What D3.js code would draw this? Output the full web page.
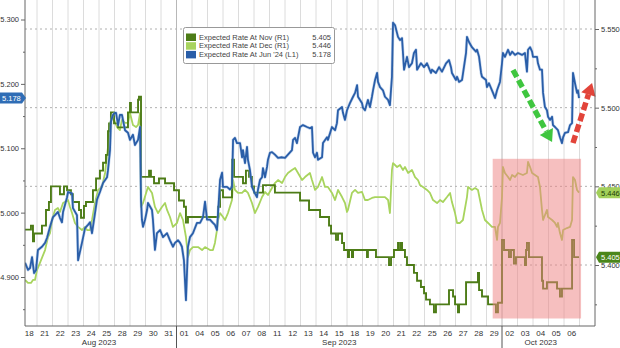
<!DOCTYPE html>
<html><head><meta charset="utf-8">
<script src="https://cdn.jsdelivr.net/npm/d3@7"></script>
<style>body{margin:0;background:#fff;overflow:hidden}svg{display:block;font-family:"Liberation Sans",Arial,sans-serif}</style>
</head><body><svg id="c" width="620" height="348"></svg>
<script>
// ---- DATA ----
const dayLabels = ["18","21","22","23","24","25","28","29","30","31",
  "01","04","05","06","07","08","11","12","13","14","15","18","19","20","21","22","25","26","27","28","29",
  "02","03","04","05","06"];
const monthNames = ["Aug 2023","Sep 2023","Oct 2023"];
const monthStarts = [0,10,31];
const monthEnds = [10,31,36];
const leftTicks = [4.9,5.0,5.1,5.2,5.3];
const leftMinor = [4.85,4.95,5.05,5.15,5.25];
const rightTicks = [5.40,5.45,5.50,5.55];
const rightMinor = [5.375,5.425,5.475,5.525];
const seriesNames = ["Expected Rate At Nov (R1)","Expected Rate At Dec (R1)","Expected Rate At Jun '24 (L1)"];

// t = trading days since start of Aug 18 ; v = implied rate
const novSeries = [[0.23,5.4225],[0.61,5.425],[0.74,5.415],[0.81,5.420],[1.32,5.425],[1.58,5.435],[1.77,5.440],[1.90,5.450],
[2.48,5.445],[2.74,5.450],[2.94,5.4475],[3.19,5.445],[3.32,5.440],[3.71,5.435],[3.84,5.430],[4.03,5.4375],[4.16,5.440],
[4.61,5.4475],[4.81,5.455],[5.06,5.460],[5.26,5.465],[5.45,5.470],[5.58,5.485],[5.65,5.490],[5.77,5.497],[5.97,5.490],
[6.23,5.4875],[6.87,5.497],[7.0,5.503],[7.06,5.497],[7.52,5.505],[7.58,5.507],[7.71,5.456],[8.23,5.460],[8.35,5.456],
[8.55,5.452],[8.87,5.455],[9.26,5.452],[9.84,5.4475],[10.16,5.441],[10.48,5.437],[10.61,5.427],[10.74,5.4305],
[12.68,5.437],[12.81,5.4475],[13.0,5.443],[13.58,5.467],[13.71,5.456],[14.29,5.452],[14.48,5.460],[14.68,5.456],
[14.87,5.450],[15.0,5.446],[15.58,5.4508],[16.35,5.446],[17.97,5.441],[18.55,5.435],[19.26,5.4305],[19.84,5.425],
[19.97,5.420],[20.29,5.416],[20.42,5.420],[20.68,5.414],[20.81,5.4095],[21.06,5.405],[21.13,5.4095],[21.32,5.405],
[21.39,5.4095],[22.29,5.405],[22.35,5.4095],[22.87,5.405],[23.71,5.400],[23.84,5.405],[24.03,5.4095],[24.29,5.414],
[24.35,5.4095],[24.48,5.414],[24.55,5.4095],[24.74,5.405],[24.87,5.400],[25.32,5.395],[25.52,5.390],[25.77,5.386],
[25.97,5.382],[26.10,5.378],[26.35,5.375],[26.61,5.370],[26.74,5.375],[27.58,5.384],[27.84,5.380],[27.97,5.375],
[28.16,5.370],[28.23,5.375],[28.68,5.389],[29.45,5.395],[29.52,5.384],[29.71,5.380],[30.10,5.375],[30.61,5.370],
[30.74,5.376],[31.0,5.416],[31.13,5.4095],[31.45,5.405],[31.58,5.4095],[31.77,5.401],[31.90,5.405],[32.48,5.400],
[32.55,5.4095],[32.61,5.414],[32.74,5.405],[33.58,5.390],[33.65,5.385],[33.90,5.389],[34.55,5.385],[34.74,5.380],
[34.87,5.385],[35.52,5.416],[35.65,5.405],[35.97,5.405]];

const decSeries = [[0.23,5.3905],[0.42,5.3886],[0.61,5.3886],[0.74,5.3905],[0.87,5.3905],[1.0,5.3968],[1.19,5.4013],
[1.52,5.4095],[1.71,5.4178],[1.84,5.4203],[1.97,5.4286],[2.16,5.4350],[2.35,5.4362],[2.48,5.4337],[2.68,5.4394],
[3.0,5.4413],[3.13,5.4369],[3.26,5.4330],[3.45,5.4267],[3.65,5.4242],[3.90,5.4222],[4.10,5.4242],[4.23,5.4222],
[4.42,5.4222],[4.55,5.4286],[4.74,5.4394],[4.94,5.4477],[5.19,5.4496],[5.39,5.4585],[5.58,5.4750],[5.71,5.4903],
[5.90,5.4941],[6.16,5.4877],[6.35,5.4858],[6.48,5.4922],[6.68,5.4903],[6.87,5.4903],[7.0,5.4966],[7.19,5.4890],
[7.39,5.4877],[7.52,5.4890],[7.65,5.4966],[7.71,5.4369],[7.84,5.4394],[8.10,5.4477],[8.16,5.4496],[8.42,5.4458],
[8.61,5.4369],[8.81,5.4330],[9.06,5.4369],[9.26,5.4394],[9.39,5.4350],[9.58,5.4305],[9.77,5.4242],[10.03,5.4267],
[10.23,5.4330],[10.42,5.4286],[10.61,5.4178],[10.74,5.4051],[10.87,5.4095],[11.06,5.4114],[11.39,5.4114],
[11.65,5.4095],[11.84,5.4114],[12.16,5.4095],[12.35,5.4095],[12.48,5.4140],[12.61,5.4222],[12.68,5.4286],
[12.81,5.4330],[13.0,5.4305],[13.13,5.4286],[13.32,5.4330],[13.58,5.4413],[13.65,5.4540],[13.77,5.4477],
[13.97,5.4458],[14.23,5.4458],[14.42,5.4477],[14.61,5.4458],[14.87,5.4394],[15.06,5.4330],[15.26,5.4369],
[15.52,5.4432],[15.71,5.4464],[15.90,5.4445],[16.16,5.4489],[16.35,5.4521],[16.55,5.4540],[16.81,5.4521],
[17.0,5.4559],[17.19,5.4585],[17.45,5.4604],[17.65,5.4617],[17.84,5.4585],[18.10,5.4540],[18.29,5.4559],
[18.61,5.4585],[18.74,5.4540],[18.94,5.4477],[19.13,5.4496],[19.39,5.4559],[19.58,5.4496],[19.77,5.4496],
[20.03,5.4458],[20.23,5.4413],[20.42,5.4477],[20.68,5.4432],[20.87,5.4394],[21.0,5.4337],[21.06,5.4350],
[21.32,5.4458],[21.52,5.4477],[21.71,5.4458],[21.97,5.4464],[22.16,5.4413],[22.35,5.4413],[22.61,5.4426],
[22.81,5.4432],[23.45,5.4432],[23.65,5.4413],[23.77,5.4330],[23.90,5.4604],[23.97,5.4648],[24.23,5.4623],
[24.42,5.4636],[24.61,5.4604],[24.74,5.4623],[24.94,5.4585],[25.19,5.4604],[25.39,5.4559],[25.58,5.4540],
[25.71,5.4508],[25.90,5.4496],[26.16,5.4477],[26.35,5.4458],[26.55,5.4413],[26.81,5.4394],[27.0,5.4413],
[27.19,5.4400],[27.45,5.4432],[27.65,5.4458],[27.77,5.4400],[27.97,5.4330],[28.10,5.4267],[28.29,5.4267],
[28.48,5.4286],[28.74,5.4432],[28.81,5.4496],[29.06,5.4477],[29.26,5.4489],[29.45,5.4477],[29.58,5.4413],
[29.71,5.4350],[29.90,5.4286],[30.10,5.4267],[30.35,5.4242],[30.55,5.4242],[30.68,5.4159],[30.74,5.4242],
[30.87,5.4267],[31.0,5.4432],[31.06,5.4623],[31.19,5.4585],[31.39,5.4559],[31.52,5.4540],[31.65,5.4572],
[31.84,5.4559],[32.03,5.4585],[32.35,5.4572],[32.61,5.4585],[32.68,5.4655],[32.81,5.4623],[32.94,5.4585],
[33.13,5.4572],[33.32,5.4559],[33.45,5.4496],[33.58,5.4350],[33.65,5.4286],[33.90,5.4350],[33.97,5.4305],
[34.23,5.4286],[34.42,5.4267],[34.55,5.4242],[34.61,5.4267],[34.74,5.4203],[34.87,5.4159],[34.94,5.4222],
[35.19,5.4235],[35.39,5.4242],[35.52,5.4286],[35.58,5.4559],[35.71,5.4540],[35.84,5.4477],[35.97,5.4460]];

const junSeries = [[0.23,4.922],[0.42,4.911],[0.55,4.914],[0.68,4.931],[0.81,4.906],[0.94,4.911],[1.06,4.942],[1.32,4.947],
[1.52,4.953],[1.65,4.961],[1.84,4.978],[2.03,4.993],[2.16,4.996],[2.35,5.001],[2.48,4.992],[2.61,4.985],[2.68,5.001],
[2.94,5.024],[3.0,5.032],[3.26,5.030],[3.32,5.007],[3.58,4.996],[3.65,4.926],[3.90,4.953],[4.10,4.976],[4.29,4.981],
[4.42,4.985],[4.55,4.968],[4.74,4.999],[4.87,5.020],[5.06,5.032],[5.26,5.046],[5.52,5.055],[5.58,5.066],[5.71,5.097],
[5.77,5.141],[5.90,5.152],[6.03,5.155],[6.10,5.155],[6.23,5.136],[6.35,5.152],[6.48,5.152],[6.68,5.128],[6.87,5.124],
[7.0,5.113],[7.19,5.121],[7.32,5.105],[7.52,5.113],[7.65,5.133],[7.71,5.020],[7.77,4.989],[7.84,4.978],[7.97,4.989],
[8.10,5.004],[8.16,5.015],[8.42,5.004],[8.48,4.989],[8.61,4.942],[8.74,4.968],[8.94,4.973],[9.13,4.962],[9.39,4.968],
[9.58,4.957],[9.77,4.947],[9.90,4.953],[10.10,4.957],[10.23,4.953],[10.35,4.947],[10.48,4.926],[10.61,4.864],
[10.74,4.947],[10.87,4.962],[11.06,4.968],[11.32,4.984],[11.52,4.984],[11.71,4.993],[11.84,5.017],[11.97,4.989],
[12.16,4.989],[12.35,4.984],[12.48,4.981],[12.61,4.973],[12.68,4.999],[12.81,5.051],[12.94,5.062],[13.0,5.040],
[13.26,5.040],[13.45,5.036],[13.58,5.040],[13.65,5.113],[13.77,5.116],[13.90,5.108],[14.10,5.108],[14.23,5.086],
[14.29,5.097],[14.42,5.077],[14.55,5.102],[14.61,5.082],[14.74,5.066],[14.87,5.040],[15.06,5.030],[15.19,5.024],
[15.26,5.036],[15.39,5.051],[15.52,5.055],[15.58,5.069],[15.71,5.055],[15.84,5.071],[15.90,5.082],[16.03,5.093],
[16.16,5.094],[16.35,5.090],[16.55,5.085],[16.81,5.086],[17.0,5.085],[17.19,5.090],[17.45,5.097],[17.52,5.113],
[17.65,5.116],[17.77,5.108],[17.97,5.133],[18.16,5.136],[18.42,5.133],[18.61,5.131],[18.74,5.133],[18.81,5.093],
[18.94,5.086],[19.06,5.093],[19.13,5.082],[19.39,5.086],[19.45,5.108],[19.71,5.117],[19.77,5.113],[20.03,5.133],
[20.23,5.128],[20.35,5.139],[20.42,5.159],[20.68,5.164],[20.74,5.155],[20.87,5.144],[21.0,5.159],[21.19,5.170],
[21.39,5.180],[21.52,5.186],[21.65,5.198],[21.71,5.180],[21.84,5.175],[21.97,5.170],[22.03,5.163],[22.16,5.159],
[22.29,5.170],[22.35,5.175],[22.48,5.164],[22.61,5.180],[22.68,5.190],[22.81,5.206],[22.94,5.217],[23.0,5.203],
[23.13,5.195],[23.32,5.190],[23.45,5.180],[23.65,5.175],[23.77,5.167],[23.90,5.211],[23.97,5.295],[24.10,5.291],
[24.29,5.273],[24.42,5.268],[24.55,5.271],[24.68,5.222],[24.87,5.242],[25.0,5.226],[25.19,5.232],[25.32,5.248],
[25.45,5.253],[25.52,5.222],[25.77,5.232],[25.97,5.226],[26.16,5.232],[26.42,5.217],[26.48,5.222],[26.74,5.217],
[26.94,5.226],[27.13,5.219],[27.39,5.232],[27.58,5.237],[27.71,5.226],[27.77,5.217],[28.03,5.206],[28.10,5.211],
[28.23,5.203],[28.42,5.206],[28.68,5.248],[28.74,5.273],[28.87,5.265],[29.06,5.257],[29.32,5.250],[29.39,5.253],
[29.52,5.242],[29.65,5.217],[29.71,5.211],[29.97,5.206],[30.03,5.195],[30.16,5.201],[30.42,5.186],[30.55,5.178],
[30.68,5.190],[30.87,5.203],[31.0,5.232],[31.06,5.248],[31.19,5.242],[31.39,5.253],[31.52,5.245],[31.65,5.250],
[31.84,5.245],[32.03,5.248],[32.29,5.245],[32.48,5.248],[32.61,5.219],[32.68,5.253],[32.81,5.257],[32.94,5.250],
[33.0,5.242],[33.26,5.242],[33.32,5.232],[33.45,5.222],[33.58,5.222],[33.65,5.186],[33.77,5.164],[33.90,5.159],
[33.97,5.149],[34.10,5.144],[34.23,5.149],[34.29,5.136],[34.42,5.133],[34.61,5.128],[34.74,5.117],[34.87,5.108],
[34.94,5.117],[35.06,5.124],[35.26,5.125],[35.39,5.136],[35.52,5.139],[35.58,5.217],[35.71,5.201],[35.84,5.186],
[35.90,5.190],[35.97,5.178]];

// annotations (data coordinates)
const highlightT = [30.4, 36.1];          // trading-day span
const highlightV = [5.366, 5.4675];       // right-axis values
const greenArrow = [[31.71,5.2216],[34.23,5.1097]];  // left-axis values
const redArrow = [[35.58,5.1082],[36.81,5.2014]];

// ---- CHART ----
const colNov = "#4d7c17", colDec = "#a8d45e", colJun = "#2a5ea8";
const svg = d3.select("#c");
const L = 25, R = 595, T = 0, B = 326;
const x = d3.scaleLinear().domain([0,37]).range([21.5,595]);
const yL = d3.scaleLinear().domain([4.9,5.3]).range([277,19.5]);
const yR = d3.scaleLinear().domain([5.40,5.55]).range([265,29]);

svg.append("defs").append("clipPath").attr("id","clip")
  .append("rect").attr("x",L).attr("y",T).attr("width",R-L).attr("height",B-T);

// vertical grid
svg.append("g").selectAll("line").data(d3.range(1,37)).join("line")
  .attr("x1",d=>x(d)).attr("x2",d=>x(d)).attr("y1",T).attr("y2",B)
  .attr("stroke",d=>(monthStarts.includes(d)?"#b8b8b8":"#dcdcdc")).attr("stroke-width",1);
// horizontal dotted grid (right axis)
svg.append("g").selectAll("line").data(rightTicks).join("line")
  .attr("x1",L).attr("x2",R).attr("y1",d=>yR(d)).attr("y2",d=>yR(d))
  .attr("stroke","#b0b0b0").attr("stroke-dasharray","2,3");

const g = svg.append("g").attr("clip-path","url(#clip)");
const lineDec = d3.line().x(d=>x(d[0])).y(d=>yR(d[1]));
const lineNov = d3.line().x(d=>x(d[0])).y(d=>yR(d[1])).curve(d3.curveStepAfter);
const lineJun = d3.line().x(d=>x(d[0])).y(d=>yL(d[1]));
g.append("path").datum(decSeries).attr("d",lineDec).attr("fill","none").attr("stroke",colDec).attr("stroke-width",1.8).attr("stroke-linejoin","round");
g.append("path").datum(novSeries).attr("d",lineNov).attr("fill","none").attr("stroke",colNov).attr("stroke-width",1.9);
g.append("path").datum(junSeries).attr("d",lineJun).attr("fill","none").attr("stroke","#8fb2e0").attr("stroke-width",3).attr("stroke-linejoin","round").attr("opacity",0.5);
g.append("path").datum(junSeries).attr("d",lineJun).attr("fill","none").attr("stroke",colJun).attr("stroke-width",1.8).attr("stroke-linejoin","round");

// highlight box
svg.append("rect").attr("x",x(highlightT[0])).attr("width",x(highlightT[1])-x(highlightT[0]))
  .attr("y",yR(highlightV[1])).attr("height",yR(highlightV[0])-yR(highlightV[1]))
  .attr("fill","#ee7f7f").attr("opacity",0.5);

// arrows
function arrow(pts,color){
  const x0=x(pts[0][0]), y0=yL(pts[0][1]), x1=x(pts[1][0]), y1=yL(pts[1][1]);
  const a=Math.atan2(y1-y0,x1-x0), hl=12, hw=7.5;
  const bx=x1-hl*Math.cos(a), by=y1-hl*Math.sin(a);
  svg.append("line").attr("x1",x0).attr("y1",y0).attr("x2",bx).attr("y2",by)
    .attr("stroke",color).attr("stroke-width",5.5).attr("stroke-dasharray","8,3.5");
  svg.append("polygon").attr("points",[[x1,y1],[bx+hw*Math.sin(a),by-hw*Math.cos(a)],[bx-hw*Math.sin(a),by+hw*Math.cos(a)]].map(p=>p.join(",")).join(" "))
    .attr("fill",color);
}
arrow(greenArrow,"#3fc63f");
arrow(redArrow,"#e2443a");

// axes
const fmt = d3.format(".3f");
function styleAxis(sel){
  sel.select(".domain").attr("stroke","#666");
  sel.selectAll(".tick line").attr("stroke","#666");
  sel.selectAll("text").attr("fill","#333").style("font-size","7.5px").style("font-family","Liberation Sans, Arial, sans-serif");
}
const axL = svg.append("g").attr("transform",`translate(${L},0)`)
  .call(d3.axisLeft(yL).tickValues(leftTicks).tickFormat(fmt).tickSize(4).tickPadding(2).tickSizeOuter(0));
axL.select(".domain").attr("d",`M0,${T}V${B}`);
styleAxis(axL);
svg.append("g").attr("transform",`translate(${L},0)`)
  .call(d3.axisLeft(yL).tickValues(leftMinor).tickFormat("").tickSize(2).tickSizeOuter(0))
  .call(s=>{s.select(".domain").remove(); s.selectAll("line").attr("stroke","#666");});

const axR = svg.append("g").attr("transform",`translate(${R},0)`)
  .call(d3.axisRight(yR).tickValues(rightTicks).tickFormat(fmt).tickSize(4).tickPadding(2).tickSizeOuter(0));
axR.select(".domain").attr("d",`M0,${T}V${B}`);
styleAxis(axR);
svg.append("g").attr("transform",`translate(${R},0)`)
  .call(d3.axisRight(yR).tickValues(rightMinor).tickFormat("").tickSize(2).tickSizeOuter(0))
  .call(s=>{s.select(".domain").remove(); s.selectAll("line").attr("stroke","#666");});

// bottom axis
svg.append("line").attr("x1",L).attr("x2",R).attr("y1",B).attr("y2",B).attr("stroke","#666");
svg.append("g").selectAll("text").data(dayLabels).join("text")
  .attr("x",(d,i)=>x(i+0.5)).attr("y",B+10).attr("text-anchor","middle")
  .attr("fill","#333").style("font-size","8px").text(d=>d);
svg.append("g").selectAll("line").data(monthStarts.slice(1)).join("line")
  .attr("x1",d=>x(d)).attr("x2",d=>x(d)).attr("y1",B).attr("y2",348).attr("stroke","#555");
svg.append("g").selectAll("text").data(monthNames).join("text")
  .attr("x",(d,i)=>(x(monthStarts[i])+x(monthEnds[i]))/2).attr("y",B+19).attr("text-anchor","middle")
  .attr("fill","#333").style("font-size","8px").text(d=>d);

// value tags
function tagRight(v,fill,textFill){
  const yy=yR(v), h=11;
  svg.append("path").attr("d",`M${R+1},${yy} L${R+4},${yy-h/2} H620 V${yy+h/2} H${R+4} Z`).attr("fill",fill);
  svg.append("text").attr("x",R+6).attr("y",yy+3).attr("fill",textFill).style("font-size","7.5px").text(fmt(v));
}
tagRight(decSeries[decSeries.length-1][1],"#a2d05a","#1d3d05");
tagRight(novSeries[novSeries.length-1][1],"#4a861a","#ffffff");
{
  const v=junSeries[junSeries.length-1][1], yy=yL(v), h=11;
  svg.append("path").attr("d",`M0,${yy-h/2} H22 L${L+1},${yy} L22,${yy+h/2} H0 Z`).attr("fill","#2f6db5");
  svg.append("text").attr("x",2).attr("y",yy+3).attr("fill","#fff").style("font-size","7.5px").text(fmt(v));
}

// legend
const lg = svg.append("g");
lg.append("rect").attr("x",183.5).attr("y",27.5).attr("width",151).attr("height",36).attr("rx",2)
  .attr("fill","#fff").attr("stroke","#999");
const legendColors=[colNov,colDec,colJun];
const legendValues=[novSeries,decSeries,junSeries].map(s=>fmt(s[s.length-1][1]));
seriesNames.forEach((n,i)=>{
  const yy=37+i*8.7;
  lg.append("rect").attr("x",186).attr("y",yy-3.5).attr("width",10).attr("height",7.5).attr("fill",legendColors[i]);
  lg.append("text").attr("x",199).attr("y",yy+2.7).attr("fill","#444").style("font-size","7.5px").text(n);
  lg.append("text").attr("x",331).attr("y",yy+2.7).attr("text-anchor","end").attr("fill","#444").style("font-size","7.5px").text(legendValues[i]);
});
</script></body></html>
